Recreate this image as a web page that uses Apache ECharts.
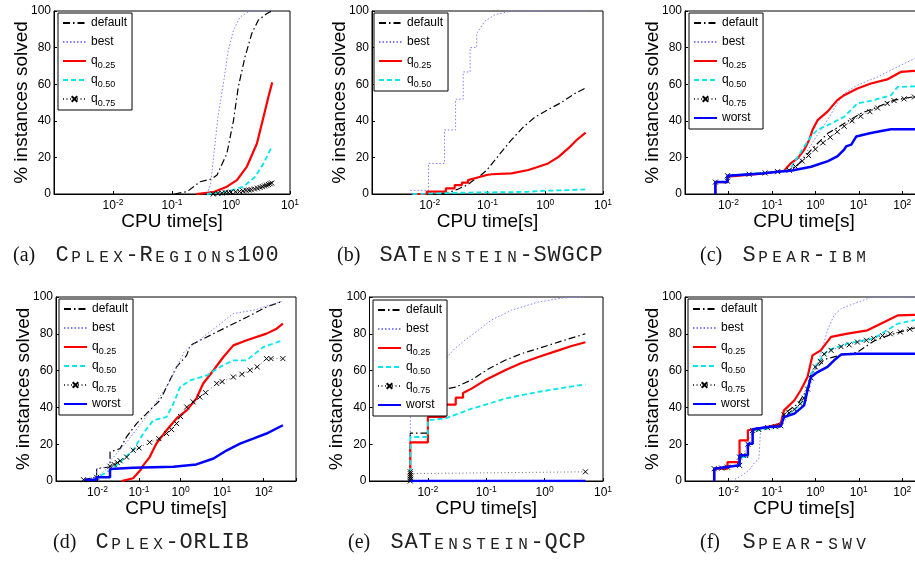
<!DOCTYPE html>
<html>
<head>
<meta charset="utf-8">
<title>CPU time vs % instances solved</title>
<script src="https://cdn.jsdelivr.net/npm/echarts@6/dist/echarts.min.js"></script>
<style>
  html, body { margin: 0; padding: 0; background: #fff; }
  #chart { width: 915px; height: 561px; }
</style>
</head>
<body>
<div id="chart"></div>
<script>
  // ---- data: [CPU time (s), % instances solved] ----
  // (a) CPLEX-Regions100
  var regionsDefault = [[0.11,0],[0.18,1.3],[0.3,6.7],[0.47,8.2],[0.58,10.4],[0.85,22],[1.1,40],[1.33,58.5],[1.73,75],[2.25,87.7],[2.9,95],[4,98.5],[4.9,100]];
  var regionsBest = [[0.39,0],[0.45,5],[0.5,18.5],[0.6,42],[0.74,60],[0.9,78.5],[1.1,89.5],[1.42,96.7],[1.95,99.5],[2.5,100],[5,100]];
  var regionsQ25 = [[0.26,0],[0.5,1],[0.85,4],[1.26,7.6],[1.86,15],[2.75,27.6],[3.55,42],[4.3,53],[5,61]];
  var regionsQ50 = [[0.39,0],[0.85,1.3],[1.62,4],[2.57,9.4],[3.55,16.7],[4.9,25.8]];
  var regionsQ75 = [[0.5,0],[0.6,0.3],[0.7,0.5],[0.8,0.7],[0.9,0.8],[1,1],[1.2,1.2],[1.4,1.4],[1.6,1.7],[1.8,2],[2,2.2],[2.2,2.4],[2.5,2.8],[2.8,3.2],[3.1,3.6],[3.4,4],[3.7,4.4],[4,4.8],[4.3,5.2],[4.6,5.6],[4.9,6]];

  // (b) SATenstein-SWGCP
  var swgcpDefault = [[0.009,0],[0.02,0.5],[0.03,2.5],[0.045,5],[0.057,7.5],[0.075,10],[0.097,13],[0.13,18],[0.165,22],[0.25,29],[0.4,36],[0.66,42],[1.1,46],[1.9,50],[3.3,55],[5,58]];
  var swgcpBest = [[0.0046,2],[0.0095,2],[0.0095,16.7],[0.018,16.7],[0.018,35],[0.028,35],[0.028,51.8],[0.038,51.8],[0.038,66.7],[0.05,66.7],[0.05,80],[0.065,80],[0.065,87.7],[0.09,94.5],[0.135,98],[0.26,100],[5,100]];
  var swgcpQ25 = [[0.0049,0],[0.0089,0],[0.0089,1.3],[0.019,1.3],[0.019,3.1],[0.027,3.1],[0.027,4.9],[0.036,4.9],[0.036,6.2],[0.046,6.2],[0.046,7.6],[0.065,8.9],[0.097,10.4],[0.118,10.8],[0.26,11.3],[0.51,13.1],[0.76,14.9],[1.12,16.7],[1.7,20.3],[2.5,24.9],[3.5,29.5],[5,33.5]];
  var swgcpQ50 = [[0.005,0],[0.02,0.5],[0.05,0.8],[0.2,1],[0.5,1.2],[1,1.8],[2,2],[5,2.5]];

  // (c) SPEAR-ibm
  var ibmDefault = [[0.005,0],[0.005,6.5],[0.0095,6.5],[0.0095,10],[0.135,12.2],[0.25,13],[0.4,16],[0.79,24],[1.9,33],[4.6,38.5],[11,44],[27,47.6],[65,51.3],[300,54]];
  var ibmBest = [[0.005,0],[0.005,6.5],[0.0095,6.5],[0.0095,10],[0.135,12.2],[0.25,13],[0.4,16.5],[0.6,22],[0.93,29.5],[1.9,40.4],[3.2,49.5],[4.6,55],[9.3,59.5],[27,64],[78,69.5],[190,74],[300,75]];
  var ibmQ25 = [[0.005,0],[0.005,6.5],[0.0095,6.5],[0.0095,9.5],[0.05,11],[0.135,12.2],[0.19,12.7],[0.27,16.7],[0.39,19.5],[0.55,24],[0.72,29.5],[0.86,35],[1.13,40.4],[1.9,45],[3.2,51.3],[4.6,54],[9.3,57.7],[19,60.4],[45,62.6],[92,66.7],[190,67.3],[300,67.3]];
  var ibmQ50 = [[0.005,0],[0.005,6.5],[0.0095,6.5],[0.0095,10],[0.135,12.2],[0.25,13],[0.55,25.8],[0.79,31.3],[1.1,35],[2.3,38.5],[4.6,42.2],[9.3,49.5],[22,51.3],[55,54],[78,58.5],[300,59]];
  var ibmQ75 = [[0.005,6.5],[0.0095,7],[0.0095,10],[0.03,10.8],[0.07,11.5],[0.135,12.2],[0.25,13],[0.35,15],[0.5,18],[0.7,21],[1,24.5],[1.5,28],[2.2,31],[3.2,34],[4.6,37],[7,40],[11,42.5],[18,45],[27,47],[45,49.5],[65,51],[110,52],[190,53],[300,53.5]];
  var ibmWorst = [[0.005,0],[0.005,6.5],[0.0095,6.5],[0.0095,10],[0.05,11],[0.135,12.2],[0.27,12.7],[0.8,14.9],[1.95,18],[3.2,20.5],[4.6,24.2],[5.1,26],[6.7,27],[8.7,31.4],[9.4,32.3],[19,33.3],[38,34.7],[55,35.4],[300,35.4]];

  // (d) CPLEX-ORLIB
  var orlibDefault = [[0.0046,0.7],[0.0095,2.2],[0.0095,6.7],[0.02,7.6],[0.02,15.8],[0.035,17.6],[0.05,24],[0.087,31.2],[0.18,38.4],[0.32,43.9],[0.55,54.7],[0.8,62],[1.4,68.3],[1.7,73.7],[4.3,78.3],[13,83.7],[39,89],[117,94.6],[290,97.8]];
  var orlibBest = [[0.0046,0.7],[0.0095,2.2],[0.0095,6.5],[0.02,8],[0.02,11],[0.05,21],[0.18,37.5],[0.55,54],[1.2,70],[2,74],[18.6,91],[56,92.8],[290,97.8]];
  var orlibQ25 = [[0.038,0],[0.072,1.5],[0.107,5.8],[0.126,8.5],[0.18,13],[0.26,20.3],[0.46,27.6],[0.8,34],[1.4,38.4],[2.4,44.8],[3.5,53],[6.2,60.2],[10.7,67.4],[18.6,73.7],[39,76.5],[117,80.1],[205,82.8],[290,85.5]];
  var orlibQ50 = [[0.008,0.7],[0.02,5.8],[0.035,10.3],[0.072,16.7],[0.126,25.8],[0.22,33],[0.46,34.8],[0.67,42],[0.97,51],[1.7,54.7],[4.3,57.4],[8.9,62],[18.6,65.6],[39,65.6],[98,72.8],[290,76.5]];
  var orlibQ75 = [[0.0046,0.7],[0.0095,2],[0.02,8],[0.025,9],[0.03,10],[0.035,11],[0.05,13],[0.072,16.7],[0.1,18],[0.18,21],[0.3,23],[0.46,25.8],[0.6,28],[0.8,31.2],[1,35],[1.4,40.2],[2,43],[2.9,45.6],[4,48],[7.4,53],[10,54],[18.6,56.5],[30,58],[47,60.2],[70,62],[117,66.5],[150,66.5],[290,66.5]];
  var orlibWorst = [[0.005,0.7],[0.0095,0.7],[0.0095,2],[0.02,2],[0.02,6.5],[0.072,7.2],[0.67,7.8],[2.4,9],[6.2,12.2],[13,16.7],[27,20.3],[56,23],[117,25.8],[290,30.3]];

  // (e) SATenstein-QCP
  var qcpDefault = [[0.005,0],[0.005,26],[0.01,26],[0.01,44],[0.02,44],[0.02,50],[0.03,51],[0.056,55],[0.11,61],[0.21,65.6],[0.4,69.2],[0.78,72],[1.72,75.5],[5,80]];
  var qcpBest = [[0.005,0],[0.005,45],[0.01,45],[0.01,60],[0.019,65.6],[0.029,72],[0.043,76.5],[0.073,81.9],[0.12,87.3],[0.27,92.8],[0.78,97.3],[2.2,99.6],[5,100]];
  var qcpQ25 = [[0.005,0],[0.005,21],[0.01,21],[0.01,34.8],[0.02,34.8],[0.02,41.5],[0.03,41.5],[0.03,45.3],[0.04,45.3],[0.04,47.8],[0.056,50.2],[0.095,54.7],[0.21,60.2],[0.4,64.1],[0.78,67.4],[1.72,71],[2.9,73.4],[5,75.4]];
  var qcpQ50 = [[0.005,0],[0.005,23.9],[0.01,23.9],[0.01,33],[0.02,34],[0.033,36.6],[0.056,39.3],[0.11,42],[0.21,44.8],[0.4,46.6],[0.78,48.4],[1.72,50.2],[5,52.5]];
  var qcpQ75 = [[0.005,0],[0.005,1],[0.005,2],[0.005,3],[0.005,4],[0.005,5],[5,5]];
  var qcpWorst = [[0.005,0],[5,0]];

  // (f) SPEAR-swv
  var swvDefault = [[0.0047,0],[0.0047,6.7],[0.018,8.5],[0.018,13],[0.028,13],[0.028,20],[0.036,20],[0.036,27.5],[0.08,29],[0.16,30],[0.19,36.6],[0.4,42],[0.66,50],[0.8,58.3],[1.6,66],[3.9,68.5],[9.3,70],[22,76],[53,79.5],[300,84.5]];
  var swvBest = [[0.012,0],[0.02,3],[0.03,6],[0.04,10],[0.05,12],[0.055,28],[0.1,30],[0.2,33],[0.4,40],[0.7,50],[1,60],[1.45,72],[1.9,82],[2.7,90],[3.9,93.7],[7.8,96.4],[15.8,99.1],[20,100],[300,100]];
  var swvQ25 = [[0.0047,0],[0.0047,6.7],[0.0095,6.7],[0.0095,10.3],[0.018,10.3],[0.018,22.1],[0.028,22.1],[0.028,27.6],[0.08,29.3],[0.16,31.2],[0.19,38.4],[0.33,43.9],[0.46,49.3],[0.66,56.5],[0.86,68.3],[1.33,71],[2.3,78.3],[5.5,80.1],[15.8,81.9],[32,85.5],[78,90],[300,90.4]];
  var swvQ50 = [[0.0047,0],[0.0047,6.7],[0.018,8.5],[0.018,13],[0.028,13],[0.028,20],[0.036,20],[0.036,27],[0.08,28.5],[0.16,30],[0.19,35.5],[0.33,38.5],[0.55,44],[0.79,58],[1.1,64],[1.9,71],[5.5,74.7],[22,77.4],[78,85.5],[300,88.3]];
  var swvQ75 = [[0.0047,6.7],[0.007,7],[0.0095,7.5],[0.018,8.5],[0.018,13],[0.022,14],[0.028,20],[0.036,27.5],[0.05,28],[0.08,29],[0.12,29.5],[0.16,30],[0.19,36],[0.25,37],[0.33,39],[0.45,42],[0.55,45],[0.66,50],[0.8,56],[1,62],[1.3,65],[1.6,69],[2.3,71],[3.9,73],[6,74],[9.3,75.5],[15,76.5],[22,77.5],[35,79],[53,80],[90,81],[150,82.5],[300,83.7]];
  var swvWorst = [[0.0047,0],[0.0047,6.7],[0.018,8.5],[0.018,14],[0.028,14],[0.028,20.3],[0.036,20.3],[0.036,28.1],[0.08,29.3],[0.16,29.7],[0.19,34.8],[0.33,36.6],[0.55,41.1],[0.66,49.3],[0.79,56.5],[1.13,59.2],[1.9,62],[2.7,65.6],[3.9,68.7],[9.3,69.2],[300,69.2]];

  // captions: lowercase letters are drawn as small caps
  var captionLabels = ['(a)', '(b)', '(c)', '(d)', '(e)', '(f)'];
  var captionNames = ['Cplex-Regions100', 'SATenstein-SWGCP', 'Spear-ibm', 'Cplex-ORLIB', 'SATenstein-QCP', 'Spear-swv'];
  var xTitle = 'CPU time[s]';
  var yTitle = '% instances solved';

  var FONT = '"Liberation Sans", Arial, Helvetica, sans-serif';
  var X_MARK = 'path://M0,0L10,10M10,0L0,10';

  // line look for each curve name (matlab style)
  var looks = {
    'default': { color: '#000000', width: 1.2, type: [7, 3, 1.5, 3] },
    'best':    { color: '#8080ff', width: 1, type: [1.5, 2] },
    'q0.25':   { color: '#ff0000', width: 2.2, type: 'solid' },
    'q0.50':   { color: '#00e8ee', width: 1.8, type: [5, 3] },
    'q0.75':   { color: '#444444', width: 0.8, type: [1, 2.5] },
    'worst':   { color: '#0000ff', width: 2.5, type: 'solid' }
  };

  // layout of the six panels: box = [left, top, width, height]
  var panels = [
    { box: [54, 11, 236, 183], xMax: 10, legend: [58, 13], caption: [13, 244],
      lines: [['default', regionsDefault], ['best', regionsBest], ['q0.25', regionsQ25], ['q0.50', regionsQ50], ['q0.75', regionsQ75]] },
    { box: [372, 11, 231, 183], xMax: 10, legend: [374, 13], caption: [337, 244],
      lines: [['default', swgcpDefault], ['best', swgcpBest], ['q0.25', swgcpQ25], ['q0.50', swgcpQ50]] },
    { box: [685, 11, 238, 183], xMax: 300, legend: [689, 13], caption: [700, 244],
      lines: [['default', ibmDefault], ['best', ibmBest], ['q0.25', ibmQ25], ['q0.50', ibmQ50], ['q0.75', ibmQ75], ['worst', ibmWorst]] },
    { box: [56, 297, 240, 184], xMax: 600, legend: [59, 299], caption: [53, 531],
      lines: [['default', orlibDefault], ['best', orlibBest], ['q0.25', orlibQ25], ['q0.50', orlibQ50], ['q0.75', orlibQ75], ['worst', orlibWorst]] },
    { box: [369.5, 297, 233.5, 184], xMax: 10, legend: [373, 300], caption: [348, 531],
      lines: [['default', qcpDefault], ['best', qcpBest], ['q0.25', qcpQ25], ['q0.50', qcpQ50], ['q0.75', qcpQ75], ['worst', qcpWorst]] },
    { box: [685, 297, 238, 184], xMax: 300, legend: [688, 299], caption: [700, 531],
      lines: [['default', swvDefault], ['best', swvBest], ['q0.25', swvQ25], ['q0.50', swvQ50], ['q0.75', swvQ75], ['worst', swvWorst]] }
  ];

  function powerLabel(v) {
    var e = Math.log(v) / Math.LN10;
    var r = Math.round(e);
    if (Math.abs(e - r) > 1e-6) return '';
    return '10{sup|' + r + '}';
  }

  function captionText(label, name) {
    var s = '{lab|' + label + '}';
    for (var i = 0; i < name.length; i++) {
      var ch = name.charAt(i);
      if (ch >= 'a' && ch <= 'z') s += '{sc|' + ch.toUpperCase() + '}';
      else s += '{tt|' + ch + '}';
    }
    return s;
  }

  var grids = [], xAxes = [], yAxes = [], series = [], legends = [], titles = [];

  panels.forEach(function (p, i) {
    grids.push({
      left: p.box[0], top: p.box[1], width: p.box[2], height: p.box[3],
      show: true, borderColor: '#000', borderWidth: 1, backgroundColor: 'transparent',
      containLabel: false, outerBoundsMode: 'none'
    });

    xAxes.push({
      type: 'log', logBase: 10, gridIndex: i, min: 0.001, max: p.xMax,
      name: xTitle, nameLocation: 'middle', nameGap: 18, nameMoveOverlap: false,
      nameTextStyle: { fontFamily: FONT, fontSize: 19, color: '#000' },
      axisLine: { show: true, onZero: false, lineStyle: { color: '#000', width: 1 } },
      axisTick: { show: true, inside: true, length: 3, lineStyle: { color: '#000' } },
      axisLabel: {
        showMinLabel: false, margin: 4, color: '#000', fontFamily: FONT, fontSize: 12, lineHeight: 16,
        formatter: powerLabel,
        rich: { sup: { fontSize: 8.5, lineHeight: 9, verticalAlign: 'top', fontFamily: FONT, color: '#000' } }
      },
      splitLine: { show: false }
    });

    yAxes.push({
      type: 'value', gridIndex: i, min: 0, max: 100, interval: 20,
      name: yTitle, nameLocation: 'middle', nameGap: 23, nameMoveOverlap: false,
      nameTextStyle: { fontFamily: FONT, fontSize: 19, color: '#000' },
      axisLine: { show: true, lineStyle: { color: '#000', width: 1 } },
      axisTick: { show: true, inside: true, length: 3, lineStyle: { color: '#000' } },
      axisLabel: { color: '#000', fontFamily: FONT, fontSize: 12, margin: 3 },
      splitLine: { show: false }
    });

    var names = [];
    p.lines.forEach(function (ln, k) {
      var name = ln[0], look = looks[name];
      names.push(name);
      var s = {
        type: 'line', name: name, xAxisIndex: i, yAxisIndex: i, data: ln[1],
        lineStyle: { color: look.color, width: look.width, type: look.type },
        itemStyle: { color: look.color },
        symbol: 'none', silent: true, animation: false, clip: true, z: 2 + k * 0.1
      };
      if (name === 'q0.75') {
        s.symbol = X_MARK;
        s.symbolSize = 5;
        s.showSymbol = true;
        s.showAllSymbol = true;
        s.itemStyle = { color: '#000', borderColor: '#000', borderWidth: 1 };
      }
      series.push(s);
    });

    legends.push({
      orient: 'vertical', left: p.legend[0], top: p.legend[1],
      backgroundColor: '#fff', borderColor: '#000', borderWidth: 1,
      padding: [1, 5, 2, 4], itemGap: 1, itemWidth: 23, itemHeight: 7,
      selectedMode: false,
      data: names.map(function (n) {
        return n === 'q0.75' ? { name: n } : { name: n, itemStyle: { opacity: 0 } };
      }),
      formatter: function (n) {
        return n.charAt(0) === 'q' ? 'q{sub|' + n.slice(1) + '}' : n;
      },
      textStyle: {
        fontFamily: FONT, fontSize: 12, color: '#000', lineHeight: 18,
        rich: { sub: { fontFamily: FONT, fontSize: 9, lineHeight: 9, verticalAlign: 'bottom', color: '#000' } }
      }
    });

    titles.push({
      left: p.caption[0], top: p.caption[1], padding: 0,
      text: captionText(captionLabels[i], captionNames[i]),
      textStyle: {
        color: '#111', fontWeight: 'normal',
        rich: {
          lab: { fontFamily: '"Liberation Serif", "Times New Roman", serif', fontSize: 20, fontWeight: 'normal', width: 42, lineHeight: 22, verticalAlign: 'bottom', color: '#111' },
          tt: { fontFamily: '"Liberation Mono", "Courier New", monospace', fontSize: 22, fontWeight: 'normal', width: 14, align: 'center', lineHeight: 22, verticalAlign: 'bottom', color: '#222' },
          sc: { fontFamily: '"Liberation Mono", "Courier New", monospace', fontSize: 16, fontWeight: 'normal', width: 14, align: 'center', lineHeight: 16, verticalAlign: 'bottom', color: '#222' }
        }
      }
    });
  });

  var myChart = echarts.init(document.getElementById('chart'), null, { renderer: 'canvas' });
  myChart.setOption({
    backgroundColor: '#fff',
    animation: false,
    title: titles,
    legend: legends,
    grid: grids,
    xAxis: xAxes,
    yAxis: yAxes,
    series: series
  });
</script>
</body>
</html>
